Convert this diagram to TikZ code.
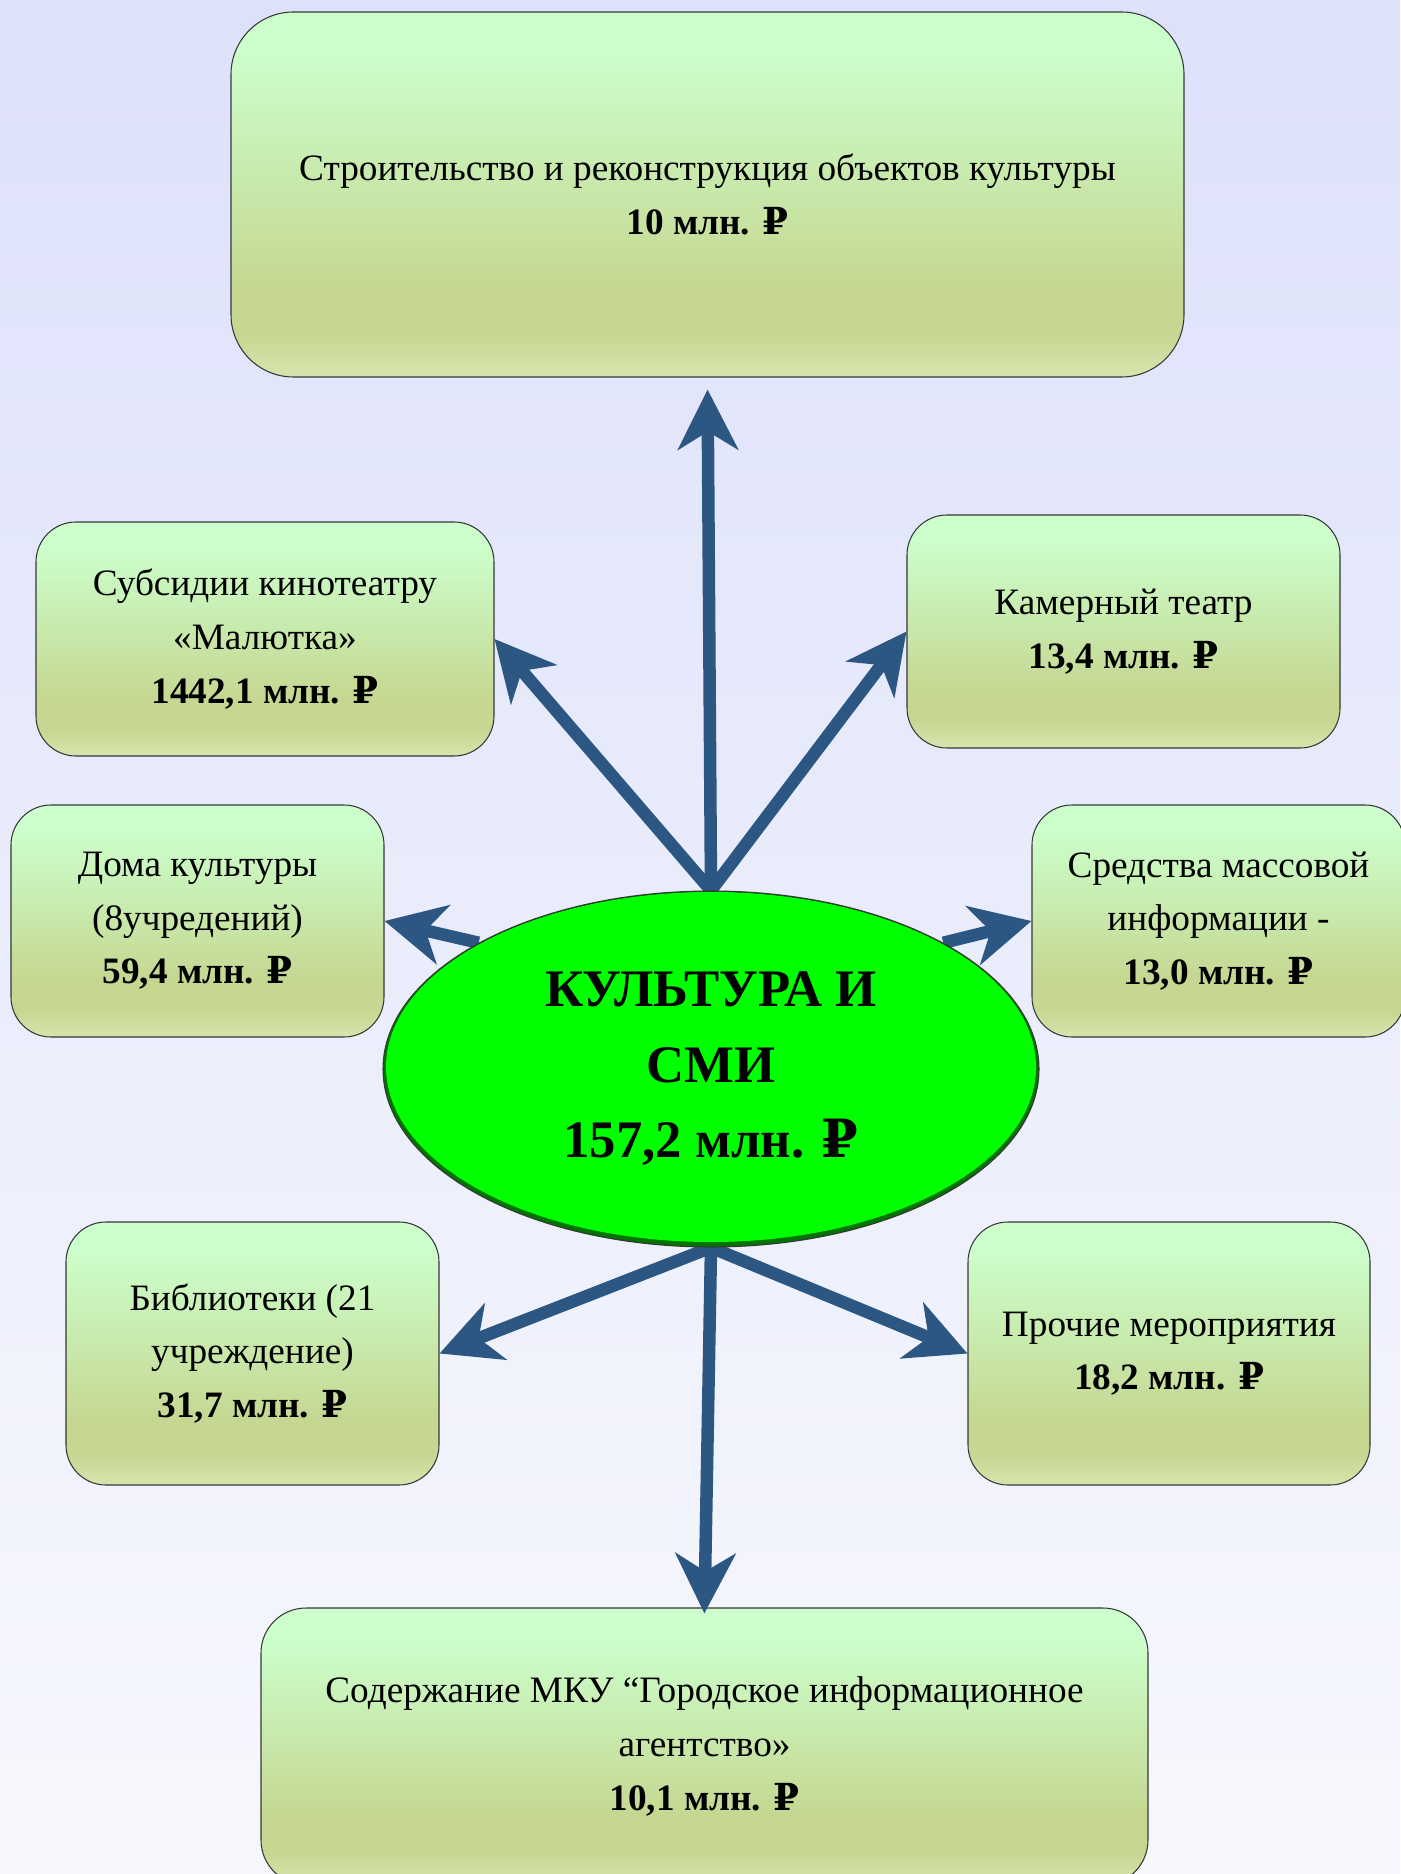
\documentclass[tikz,border=0pt]{standalone}
\usepackage{fontspec}
\setmainfont{Liberation Serif}
\newfontfamily\rubfont{DejaVu Serif}
\newcommand{\rub}{{\rubfont ₽}}
\usetikzlibrary{arrows.meta,shapes.geometric}

\definecolor{bgtop}{RGB}{221,225,250}
\definecolor{bgbot}{RGB}{247,248,253}
\definecolor{boxtop}{RGB}{204,255,204}
\definecolor{boxmid}{RGB}{197,215,145}
\definecolor{boxbot}{RGB}{216,228,174}
\definecolor{arrblue}{RGB}{43,87,130}
\definecolor{cgreen}{RGB}{0,255,0}
\definecolor{cshadow}{RGB}{0,115,0}
\definecolor{edge}{RGB}{55,55,55}

\pgfdeclareverticalshading{boxshade}{100bp}{color(0bp)=(boxbot); color(25bp)=(boxbot); color(31bp)=(boxmid); color(37bp)=(boxmid); color(70bp)=(boxtop); color(100bp)=(boxtop)}

\pgfdeclarelayer{back}
\pgfdeclarelayer{front}
\pgfsetlayers{back,main,front}

\tikzset{
  item/.style={draw=edge, line width=0.6pt, shading=boxshade, rounded corners=0.8cm,
    align=center, inner sep=0pt, font=\fontsize{21.2}{30.5}\selectfont},
  core/.style={ellipse, draw=edge, line width=0.6pt, fill=cshadow, inner sep=0pt,
    minimum width=13.12cm, minimum height=7.12cm, align=center,
    font=\fontsize{30}{43}\selectfont\bfseries,
    path picture={\fill[cgreen] ([yshift=0.04cm]path picture bounding box.center)
      ellipse (6.5cm and 3.5cm);}},
  budget/.style={draw=arrblue, line width=0.25cm,
    -{Stealth[length=1.2cm, width=1.2cm, inset=0.36cm]}}
}

\begin{document}
\begin{tikzpicture}
  \useasboundingbox (0,0) rectangle (28,-37.48);
  \begin{pgfonlayer}{back}
    \fill[top color=bgtop, bottom color=bgbot] (0,0) rectangle (28,-37.48);
  \end{pgfonlayer}

  % boxes
  \node[item, rounded corners=1.25cm, minimum width=19.06cm, minimum height=7.3cm] (build) at (14.15,-3.89)
    {Строительство и реконструкция объектов культуры\\ \textbf{10 млн. \rub}};
  \node[item, minimum width=9.16cm, minimum height=4.68cm] (kino) at (5.30,-12.78)
    {Субсидии кинотеатру\\ «Малютка»\\ \textbf{1442,1 млн. \rub}};
  \node[item, minimum width=8.66cm, minimum height=4.66cm] (theatre) at (22.47,-12.63)
    {Камерный театр\\ \textbf{13,4 млн. \rub}};
  \node[item, minimum width=7.46cm, minimum height=4.64cm] (houses) at (3.95,-18.42)
    {Дома культуры\\ (8учредений)\\ \textbf{59,4 млн. \rub}};
  \node[item, minimum width=7.46cm, minimum height=4.64cm] (media) at (24.37,-18.42)
    {Средства массовой\\ информации -\\ \textbf{13,0 млн. \rub}};
  \node[item, minimum width=7.46cm, minimum height=5.26cm] (library) at (5.05,-27.07)
    {Библиотеки (21\\ учреждение)\\ \textbf{31,7 млн. \rub}};
  \node[item, minimum width=8.04cm, minimum height=5.26cm] (other) at (23.38,-27.07)
    {Прочие мероприятия\\ \textbf{18,2 млн. \rub}};
  \node[item, rounded corners=0.9cm, minimum width=17.74cm, minimum height=5.54cm] (agency) at (14.09,-34.93)
    {Содержание МКУ “Городское информационное\\ агентство»\\ \textbf{10,1 млн. \rub}};

  % centre
  \begin{pgfonlayer}{front}
    \node[core] (culture) at (14.22,-21.38) {КУЛЬТУРА И\\ СМИ\\ 157,2 млн. \rub};
  \end{pgfonlayer}

  % arrows
  \draw[budget, shorten >=0.24cm] (culture.north) -- (build.south);
  \draw[budget] (culture.north) -- (kino.east);
  \draw[budget] (culture.north) -- (theatre.west);
  \draw[budget] (culture.north west) -- (houses.east);
  \draw[budget] (culture.north east) -- (media.west);
  \draw[budget] (culture.south) -- (library.east);
  \draw[budget] (culture.south) -- (other.west);
  \draw[budget, shorten >=-0.12cm] (culture.south) -- (agency.north);
\end{tikzpicture}
\end{document}
